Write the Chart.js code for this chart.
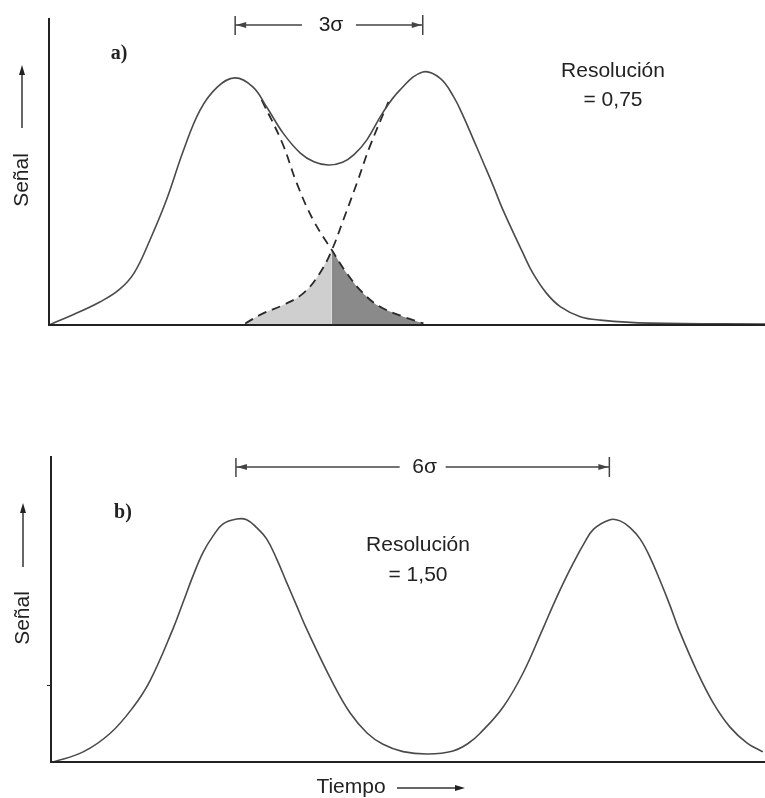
<!DOCTYPE html>
<html>
<head>
<meta charset="utf-8">
<script src="https://cdn.jsdelivr.net/npm/chart.js@4.4.0/dist/chart.umd.min.js"></script>
<style>
    html, body { margin: 0; padding: 0; background: #fff; }
    #wrap { position: relative; width: 765px; height: 798px; }
    canvas { position: absolute; left: 0; }
</style>
</head>
<body>
<div id="wrap">
    <canvas id="chartA" width="765" height="400" style="top:0;width:765px;height:400px"></canvas>
    <canvas id="chartB" width="765" height="398" style="top:400px;width:765px;height:398px"></canvas>
</div>
<script>
// a) resolución 0,75 - señal total (picos solapados)
const tiempoA = [0, 3.5, 7.1, 9.8, 11.9, 14.1, 16.4, 18.8, 21.1, 23.5, 26.0, 28.5, 30.4, 32.7, 35.1, 37.0, 39.0, 41.0, 42.6, 44.4, 46.6, 49.0, 52.2, 54.6, 56.5, 57.9, 59.3, 60.7, 62.1, 63.4, 66.2, 67.6, 69.5, 71.4, 74.2, 77.0, 83.9, 100];
const senalA = [0, 3.5, 7.5, 11.5, 17.0, 27.7, 40.7, 57.0, 70.0, 77.5, 80.5, 77.5, 71.0, 62.5, 56.0, 53.2, 52.1, 53.0, 55.5, 60.3, 69.1, 76.5, 82.4, 80.4, 74.4, 67.8, 60.3, 52.7, 45.0, 37.5, 23.4, 16.8, 10.3, 6.0, 2.7, 1.6, 0.6, 0.3];

// a) pico 1, cola (discontinua)
const tiempoPico1 = [29.7, 32.6, 34.6, 36.9, 39.5, 41.6, 43.9, 46.2, 49.5, 52.3];
const senalPico1 = [73.3, 59.2, 46.2, 34.2, 24.4, 16.8, 10.3, 6.0, 2.7, 0.5];

// a) pico 2, frente (discontinua)
const tiempoPico2 = [27.4, 29.9, 32.7, 35.5, 37.8, 39.5, 41.1, 43.0, 44.8, 47.4];
const senalPico2 = [0.5, 3.8, 6.5, 10.3, 16.8, 24.4, 34.2, 46.2, 58.1, 72.7];

const cruce = 39.5;

// b) resolución 1,50
const tiempoB = [0.3, 4.5, 8.3, 11.5, 13.9, 17.1, 18.5, 19.9, 21.3, 22.7, 24.1, 26.0, 27.4, 28.8, 30.2, 31.6, 33.0, 34.4, 35.8, 39.5, 41.9, 44.3, 46.5, 49.3, 52.8, 56.3, 58.5, 60.1, 63.3, 66.1, 68.9, 70.3, 71.7, 73.2, 74.6, 76.0, 78.3, 79.7, 81.1, 82.5, 83.9, 85.3, 86.7, 87.9, 90.5, 92.7, 95.1, 97.5, 99.7];
const senalB = [0, 3.3, 9.4, 17.9, 26.7, 43.6, 52.2, 60.9, 68.5, 73.9, 77.8, 79.4, 79.2, 76.6, 72.9, 66.4, 58.7, 51.1, 43.5, 25.7, 16.0, 9.4, 5.8, 3.4, 2.6, 3.6, 6.2, 9.4, 17.9, 29.0, 43.6, 51.1, 58.2, 65.2, 71.2, 76.1, 79.2, 78.8, 76.6, 72.9, 66.9, 59.3, 51.1, 43.5, 29.5, 19.5, 11.4, 6.2, 3.3];

const toPoints = (xs, ys) => xs.map((x, i) => ({ x: x, y: ys[i] }));

const LINE = '#4a4a4a';
const INK = '#222';
const SANS = '"Liberation Sans", Arial, sans-serif';

function arrowHead(ctx, x, y, dir) {
    // dir: 'left' | 'right' | 'up'
    ctx.beginPath();
    if (dir === 'left') { ctx.moveTo(x, y); ctx.lineTo(x + 10, y - 3); ctx.lineTo(x + 10, y + 3); }
    if (dir === 'right') { ctx.moveTo(x, y); ctx.lineTo(x - 10, y - 3); ctx.lineTo(x - 10, y + 3); }
    if (dir === 'up') { ctx.moveTo(x, y); ctx.lineTo(x - 3, y + 10); ctx.lineTo(x + 3, y + 10); }
    ctx.closePath();
    ctx.fill();
}

const notes = {
    id: 'notes',
    afterDraw(chart, args, opts) {
        const ctx = chart.ctx;
        const area = chart.chartArea;
        const xs = chart.scales.x;
        const ys = chart.scales.y;
        ctx.save();
        ctx.strokeStyle = '#222';
        ctx.fillStyle = INK;

        // ejes
        ctx.lineWidth = 2;
        ctx.beginPath();
        ctx.moveTo(area.left, area.top);
        ctx.lineTo(area.left, area.bottom);
        ctx.lineTo(area.right, area.bottom);
        ctx.stroke();
        if (opts.tick !== undefined) {
            const ty = ys.getPixelForValue(opts.tick);
            ctx.lineWidth = 1;
            ctx.beginPath();
            ctx.moveTo(area.left - 4, ty);
            ctx.lineTo(area.left, ty);
            ctx.stroke();
        }

        // corchete entre picos
        const b = opts.bracket;
        const x1 = xs.getPixelForValue(b.from);
        const x2 = xs.getPixelForValue(b.to);
        const by = area.top + b.dy;
        const mid = (x1 + x2) / 2;
        ctx.strokeStyle = '#444';
        ctx.lineWidth = 1.5;
        ctx.beginPath();
        ctx.moveTo(x1, by - 9); ctx.lineTo(x1, by + 10);
        ctx.moveTo(x2, by - 10); ctx.lineTo(x2, by + 10);
        ctx.moveTo(x1, by); ctx.lineTo(mid - b.gap, by);
        ctx.moveTo(mid + b.gap, by); ctx.lineTo(x2, by);
        ctx.stroke();
        ctx.fillStyle = '#444';
        arrowHead(ctx, x1 + 1, by, 'left');
        arrowHead(ctx, x2 - 1, by, 'right');
        ctx.fillStyle = INK;
        ctx.font = '21px ' + SANS;
        ctx.textAlign = 'center';
        ctx.textBaseline = 'middle';
        ctx.fillText(b.text, mid + 2, by);

        // textos
        opts.texts.forEach(t => {
            ctx.font = t.font;
            ctx.fillText(t.text, t.x, t.y);
        });

        // Señal con flecha
        const s = opts.senal;
        ctx.save();
        ctx.translate(s.x, s.y);
        ctx.rotate(-Math.PI / 2);
        ctx.font = '21px ' + SANS;
        ctx.fillText('Señal', 0, 0);
        ctx.restore();
        ctx.strokeStyle = '#333';
        ctx.lineWidth = 1.5;
        ctx.beginPath();
        ctx.moveTo(s.x, s.arrowFrom);
        ctx.lineTo(s.x, s.arrowTo + 6);
        ctx.stroke();
        arrowHead(ctx, s.x, s.arrowTo, 'up');

        // Tiempo
        if (opts.tiempo) {
            const tm = opts.tiempo;
            ctx.font = '21px ' + SANS;
            ctx.fillText('Tiempo', tm.x, tm.y);
            ctx.beginPath();
            ctx.moveTo(tm.arrowFrom, tm.y + 1);
            ctx.lineTo(tm.arrowTo - 6, tm.y + 1);
            ctx.stroke();
            arrowHead(ctx, tm.arrowTo, tm.y + 1, 'right');
        }
        ctx.restore();
    }
};

function baseOptions(padding, notesOpts) {
    return {
        responsive: false,
        animation: false,
        layout: { padding: padding },
        scales: {
            x: { type: 'linear', min: 0, max: 100, display: false },
            y: { type: 'linear', min: 0, max: 100, display: false }
        },
        elements: {
            point: { radius: 0 },
            line: { tension: 0.4, capBezierPoints: true }
        },
        plugins: {
            legend: { display: false },
            tooltip: { enabled: false },
            notes: notesOpts
        }
    };
}

function createChartA() {
    const canvas = document.getElementById('chartA');
    const frente = toPoints(tiempoPico2, senalPico2);
    const cola = toPoints(tiempoPico1, senalPico1);
    const data = {
        datasets: [{
            label: 'Señal',
            data: toPoints(tiempoA, senalA),
            borderColor: LINE,
            borderWidth: 1.6,
            fill: false
        }, {
            label: 'Pico 1',
            data: cola,
            borderColor: '#2a2a2a',
            borderWidth: 1.8,
            borderDash: [9, 6],
            fill: false
        }, {
            label: 'Pico 2',
            data: frente,
            borderColor: '#2a2a2a',
            borderWidth: 1.8,
            borderDash: [9, 6],
            fill: false
        }, {
            label: 'Solape pico 1',
            data: cola.filter(p => p.x >= cruce),
            borderWidth: 0,
            backgroundColor: '#8a8a8a',
            fill: 'origin'
        }, {
            label: 'Solape pico 2',
            data: frente.filter(p => p.x <= cruce),
            borderWidth: 0,
            backgroundColor: '#cfcfcf',
            fill: 'origin'
        }]
    };
    const options = baseOptions({ left: 49, top: 18, right: 0, bottom: 75 }, {
        bracket: { from: 26.0, to: 52.2, dy: 7, gap: 27, text: '3σ' },
        texts: [
            { text: 'a)', x: 119, y: 54, font: 'bold 20px "Liberation Serif", "DejaVu Serif", serif' },
            { text: 'Resolución', x: 613, y: 71, font: '21px ' + SANS },
            { text: '= 0,75', x: 613, y: 100, font: '21px ' + SANS }
        ],
        senal: { x: 22, y: 180, arrowFrom: 128, arrowTo: 65 }
    });
    return new Chart(canvas, { type: 'line', data: data, options: options, plugins: [notes] });
}

function createChartB() {
    const canvas = document.getElementById('chartB');
    const data = {
        datasets: [{
            label: 'Señal',
            data: toPoints(tiempoB, senalB),
            borderColor: LINE,
            borderWidth: 1.6,
            fill: false
        }]
    };
    const options = baseOptions({ left: 51, top: 56, right: 0, bottom: 36 }, {
        tick: 25,
        bracket: { from: 25.9, to: 78.2, dy: 11, gap: 23, text: '6σ' },
        texts: [
            { text: 'b)', x: 123, y: 113, font: 'bold 20px "Liberation Serif", "DejaVu Serif", serif' },
            { text: 'Resolución', x: 418, y: 145, font: '21px ' + SANS },
            { text: '= 1,50', x: 418, y: 175, font: '21px ' + SANS }
        ],
        senal: { x: 23, y: 218, arrowFrom: 167, arrowTo: 103 },
        tiempo: { x: 351, y: 387, arrowFrom: 397, arrowTo: 465 }
    });
    return new Chart(canvas, { type: 'line', data: data, options: options, plugins: [notes] });
}

createChartA();
createChartB();
</script>
</body>
</html>
